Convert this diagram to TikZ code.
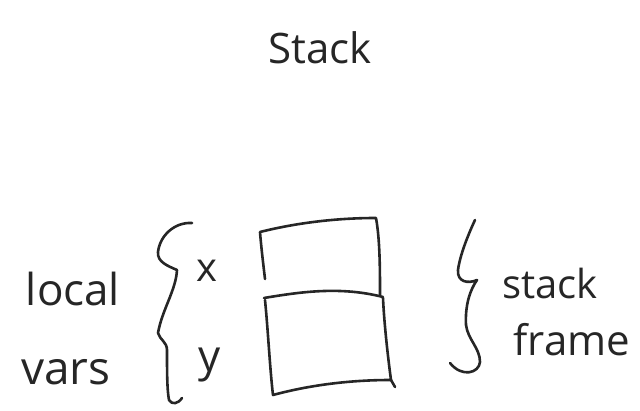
\documentclass[tikz,border=0pt]{standalone}
\usepackage{fontspec}
\setmainfont{Open Sans}
\begin{document}
\begin{tikzpicture}[x=1pt,y=-1pt,
  pen/.style={line width=2.6pt,line cap=round,line join=round,color=black!85},
  hand/.style={inner sep=0pt,anchor=base,text=black!85,font=\fontsize{40}{44}\selectfont}]
\useasboundingbox (0,0) rectangle (640,411);
% title
\node[hand,font=\fontsize{42}{48}\selectfont] (title) at (320,64) {Stack};
% stack frame box
\draw[pen] (265,279) .. controls (263,262) and (261,245) .. (260,232)
  .. controls (300,222) and (340,218) .. (376,218)
  .. controls (380,240) and (380,270) .. (380,295);
\draw[pen] (264,298) .. controls (300,292) and (340,286) .. (383,297);
\draw[pen] (265,300) .. controls (268,330) and (270,370) .. (273,395)
  .. controls (310,385) and (350,380) .. (391,380)
  .. controls (387,350) and (384,320) .. (383,298);
\draw[pen] (391,380) -- (395,387);
% left brace
\draw[pen] (192,223) .. controls (175,222) and (160,235) .. (158,252)
  .. controls (157,262) and (168,266) .. (177,270)
  .. controls (176,290) and (162,310) .. (158,333)
  .. controls (160,340) and (167,342) .. (167,350)
  .. controls (167,370) and (167,390) .. (169,400)
  .. controls (172,405) and (178,404) .. (182,398);
% right brace
\draw[pen] (475,220) .. controls (468,235) and (460,255) .. (458,270)
  .. controls (457,282) and (468,284) .. (477,280)
  .. controls (470,290) and (465,305) .. (466,325)
  .. controls (468,340) and (480,348) .. (480,362)
  .. controls (479,373) and (462,378) .. (450,363);
% labels
\node[hand,font=\fontsize{40}{44}\selectfont] (x) at (207,282) {x};
\node[hand,font=\fontsize{44}{48}\selectfont] (y) at (210,372) {y};
\node[hand,font=\fontsize{44}{48}\selectfont] (local) at (73,306) {local};
\node[hand,font=\fontsize{46}{50}\selectfont] (vars) at (66,385) {vars};
\node[hand,font=\fontsize{40}{44}\selectfont] (stack) at (550,299) {stack};
\node[hand,font=\fontsize{42}{46}\selectfont] (frame) at (572,356) {frame};
\end{tikzpicture}
\end{document}
